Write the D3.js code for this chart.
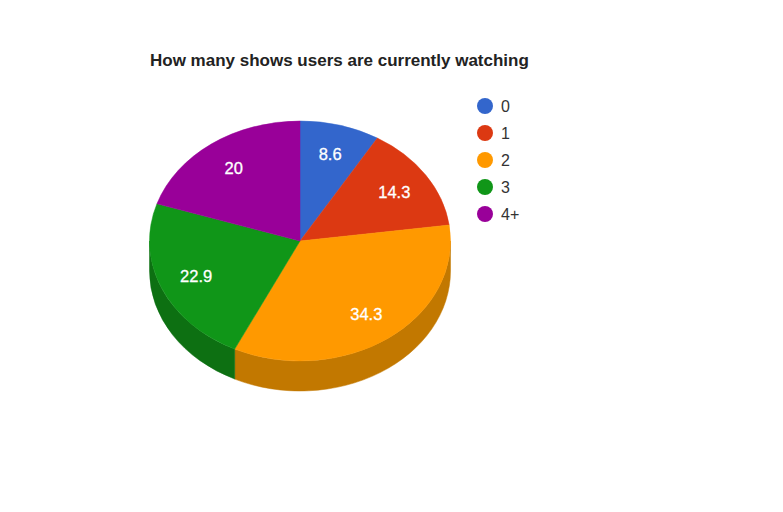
<!DOCTYPE html>
<html><head><meta charset="utf-8">
<script src="https://cdn.jsdelivr.net/npm/d3@7"></script>
<style>body{margin:0;background:#fff}svg{display:block;font-family:"Liberation Sans",Arial,sans-serif}</style>
</head><body>
<svg id="c" width="783" height="512"></svg>
<script>
const title = "How many shows users are currently watching";
const categories = ["0", "1", "2", "3", "4+"];
const values = [8.6, 14.3, 34.3, 22.9, 20];
const topColors = ["#3366cc", "#dc3912", "#ff9900", "#109618", "#990099"];
const sideColors = ["#264d99", "#a52b0e", "#c27800", "#0d7012", "#730073"];

const svg = d3.select("#c");
const cx = 300, cy = 241, rx = 150.5, ry = 120, depth = 30;

const pie = d3.pie().sort(null).value(d => d).startAngle(0).endAngle(2 * Math.PI);
const arcs = pie(values);

const px = a => cx + rx * Math.sin(a);
const py = (a, dy = 0) => cy - ry * Math.cos(a) + dy;

// sides (visible front half: PI/2..3PI/2)
const g = svg.append("g");
arcs.forEach((d, i) => {
  const a0 = Math.max(d.startAngle, Math.PI / 2);
  const a1 = Math.min(d.endAngle, 3 * Math.PI / 2);
  if (a1 <= a0) return;
  const large = (a1 - a0) > Math.PI ? 1 : 0;
  const p = `M${px(a0)},${py(a0)} A${rx},${ry} 0 ${large} 1 ${px(a1)},${py(a1)} L${px(a1)},${py(a1, depth)} A${rx},${ry} 0 ${large} 0 ${px(a0)},${py(a0, depth)} Z`;
  g.append("path").attr("d", p).attr("fill", sideColors[i]).attr("stroke", sideColors[i]).attr("stroke-width", 0.5);
});
// top faces
arcs.forEach((d, i) => {
  const a0 = d.startAngle, a1 = d.endAngle;
  const large = (a1 - a0) > Math.PI ? 1 : 0;
  const p = `M${cx},${cy} L${px(a0)},${py(a0)} A${rx},${ry} 0 ${large} 1 ${px(a1)},${py(a1)} Z`;
  g.append("path").attr("d", p).attr("fill", topColors[i]).attr("stroke", topColors[i]).attr("stroke-width", 0.5);
});
// labels
arcs.forEach((d, i) => {
  const m = (d.startAngle + d.endAngle) / 2, f = 0.75;
  g.append("text")
    .attr("x", cx + f * rx * Math.sin(m))
    .attr("y", cy - f * ry * Math.cos(m) + 6)
    .attr("text-anchor", "middle").attr("font-size", 16.5).attr("fill", "#fff")
    .attr("stroke", "#fff").attr("stroke-width", 0.3)
    .text(values[i]);
});

svg.append("text").attr("x", 150).attr("y", 66).attr("font-size", 17).attr("font-weight", "bold")
  .attr("fill", "#222").text(title);

const leg = svg.append("g");
categories.forEach((c, i) => {
  const y = 106 + i * 27;
  leg.append("circle").attr("cx", 485).attr("cy", y).attr("r", 8).attr("fill", topColors[i]);
  leg.append("text").attr("x", 501).attr("y", y + 6).attr("font-size", 16).attr("fill", "#333").text(c);
});
</script>
</body></html>
